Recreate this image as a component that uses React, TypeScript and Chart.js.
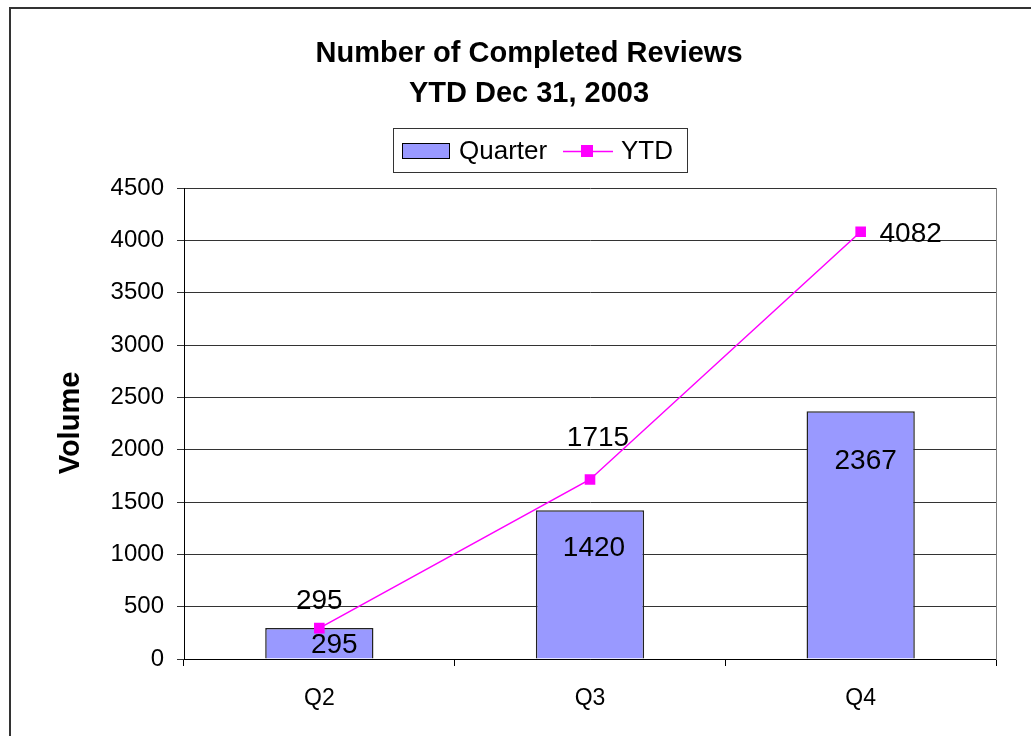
import React, { useEffect, useRef } from "react";
import { Chart, registerables } from "chart.js";

Chart.register(...registerables);

const categories = ["Q2", "Q3", "Q4"];
const quarterValues = [295, 1420, 2367];
const ytdValues = [295, 1715, 4082];
const titleLines = ["Number of Completed Reviews", "YTD Dec 31, 2003"];
const yAxisTitle = "Volume";
const yMax = 4500;
const yStep = 500;

// label placement offsets (px) relative to the mark
const quarterLabelDx = [15, 4, 5];
const quarterLabelDy = [25, 46, 58];
const ytdLabelDx = [0, 8, 50];
const ytdLabelDy = [-19, -33, 10];

const FONT = "'Liberation Sans', Arial, Helvetica, sans-serif";
const BAR_FILL = "#9999FF";
const LINE_COLOR = "#FF00FF";

const decorPlugin = {
  id: "decor",
  beforeDraw(chart: any) {
    const ctx = chart.ctx;
    ctx.save();
    ctx.fillStyle = "#ffffff";
    ctx.fillRect(0, 0, chart.width, chart.height);
    ctx.restore();
  },
  afterDraw(chart: any) {
    const ctx = chart.ctx;
    const area = chart.chartArea;
    ctx.save();

    // outer frame
    ctx.strokeStyle = "#333";
    ctx.lineWidth = 2;
    ctx.strokeRect(10, 8, chart.width + 20, chart.height + 20);

    // plot area right border
    ctx.strokeStyle = "#808080";
    ctx.lineWidth = 1;
    ctx.beginPath();
    ctx.moveTo(Math.round(area.right) + 0.5, Math.round(area.top));
    ctx.lineTo(Math.round(area.right) + 0.5, Math.round(area.bottom) + 1);
    ctx.stroke();

    // title
    ctx.fillStyle = "#000";
    ctx.textAlign = "center";
    ctx.textBaseline = "alphabetic";
    ctx.font = `bold 29px ${FONT}`;
    const titleY = [62, 102];
    titleLines.forEach((t, i) => {
      ctx.fillText(t, 529, titleY[i]);
    });

    // y axis title
    ctx.save();
    ctx.translate(79, 423);
    ctx.rotate(-Math.PI / 2);
    ctx.font = `bold 29px ${FONT}`;
    ctx.textAlign = "center";
    ctx.fillText(yAxisTitle, 0, 0);
    ctx.restore();

    // legend
    const ds = chart.data.datasets;
    ctx.strokeStyle = "#333";
    ctx.lineWidth = 1;
    ctx.strokeRect(393.5, 128.5, 294, 44);
    ctx.fillStyle = BAR_FILL;
    ctx.fillRect(402, 143, 48, 16);
    ctx.strokeStyle = "#000";
    ctx.strokeRect(402.5, 143.5, 47, 15);
    ctx.fillStyle = "#000";
    ctx.font = `26px ${FONT}`;
    ctx.textAlign = "left";
    ctx.fillText(ds[0].label, 459, 159);
    ctx.strokeStyle = LINE_COLOR;
    ctx.lineWidth = 1.5;
    ctx.beginPath();
    ctx.moveTo(563, 151.5);
    ctx.lineTo(613, 151.5);
    ctx.stroke();
    ctx.fillStyle = LINE_COLOR;
    ctx.fillRect(581, 145, 12, 12);
    ctx.fillStyle = "#000";
    ctx.fillText(ds[1].label, 621, 159);

    // data labels
    ctx.font = `28px ${FONT}`;
    ctx.textAlign = "center";
    ctx.fillStyle = "#000";
    const barMeta = chart.getDatasetMeta(0);
    barMeta.data.forEach((el: any, i: number) => {
      const v = ds[0].data[i];
      ctx.fillText(String(v), el.x + quarterLabelDx[i], el.y + quarterLabelDy[i]);
    });
    const lineMeta = chart.getDatasetMeta(1);
    lineMeta.data.forEach((el: any, i: number) => {
      const v = ds[1].data[i];
      ctx.fillText(String(v), el.x + ytdLabelDx[i], el.y + ytdLabelDy[i]);
    });

    ctx.restore();
  },
};

export default function App() {
  const ref = useRef<HTMLCanvasElement | null>(null);

  useEffect(() => {
    document.body.style.margin = "0";
    const canvas = ref.current;
    if (!canvas) return;
    const chart = new Chart(canvas, {
      type: "bar",
      data: {
        labels: categories,
        datasets: [
          {
            type: "bar",
            label: "Quarter",
            data: quarterValues,
            backgroundColor: BAR_FILL,
            borderColor: "#222",
            borderWidth: 1.5,
            barPercentage: 0.4,
            categoryPercentage: 1,
            order: 2,
          },
          {
            type: "line",
            label: "YTD",
            data: ytdValues,
            borderColor: LINE_COLOR,
            backgroundColor: LINE_COLOR,
            borderWidth: 1.5,
            pointStyle: "rect",
            pointRadius: 7.5,
            pointBorderWidth: 0,
            pointBackgroundColor: LINE_COLOR,
            fill: false,
            tension: 0,
            order: 1,
          },
        ],
      } as any,
      plugins: [decorPlugin],
      options: {
        responsive: false,
        animation: false,
        layout: { padding: { left: 0, top: 188, right: 35, bottom: 0 } },
        plugins: {
          legend: { display: false },
          title: { display: false },
          tooltip: { enabled: false },
        },
        scales: {
          x: {
            offset: true,
            grid: {
              display: true,
              offset: true,
              drawOnChartArea: false,
              drawTicks: true,
              tickLength: 7,
              color: "#000",
            },
            border: { display: true, color: "#000", width: 1 },
            ticks: {
              color: "#000",
              font: { family: FONT, size: 23 },
              padding: 19,
            },
            afterFit: (scale: any) => {
              scale.height = 77;
            },
          },
          y: {
            min: 0,
            max: yMax,
            ticks: {
              stepSize: yStep,
              color: "#000",
              font: { family: FONT, size: 24 },
              padding: 13,
              callback: (v: any) => String(v),
            },
            grid: {
              color: "#333",
              tickLength: 7,
              drawTicks: true,
            },
            border: { display: true, color: "#000", width: 1 },
            afterFit: (scale: any) => {
              scale.width = 184;
            },
          },
        },
      } as any,
    });
    return () => chart.destroy();
  }, []);

  return (
    <div style={{ position: "absolute", left: 0, top: 0, width: 1031, height: 736 }}>
      <canvas ref={ref} width={1031} height={736} style={{ display: "block" }} />
    </div>
  );
}
